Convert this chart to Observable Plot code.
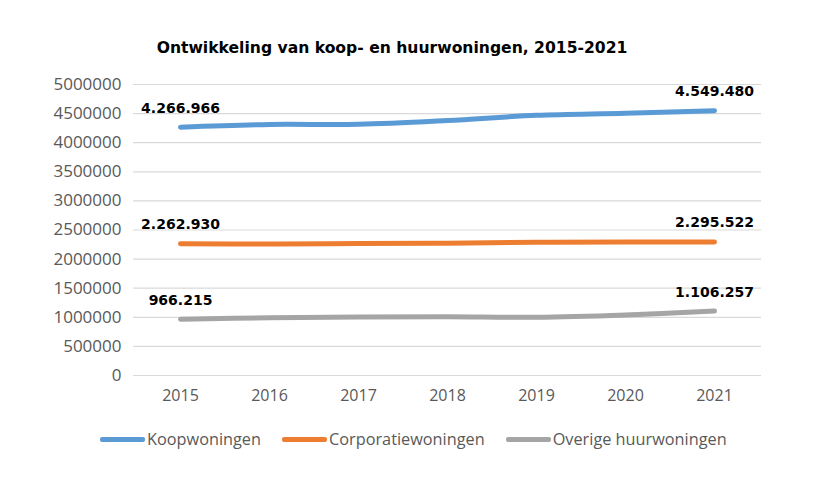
<!DOCTYPE html>
<html><head><meta charset="utf-8">
<script src="https://cdn.jsdelivr.net/npm/d3@7"></script>
<script src="https://cdn.jsdelivr.net/npm/@observablehq/plot@0.6"></script>
<style>
body{margin:0;background:#fff;width:830px;height:492px;overflow:hidden;position:relative;font-family:"Open Sans",sans-serif;}
#title{position:absolute;top:38px;left:0;width:784px;text-align:center;font-family:"DejaVu Sans",Verdana,sans-serif;font-weight:bold;font-size:15.6px;line-height:20px;color:#000;}
#chart{position:absolute;top:70px;left:0;}
#legend{position:absolute;top:427px;left:100px;display:flex;align-items:center;font-size:16.3px;color:#595959;line-height:24px;}
.item{display:flex;align-items:center;margin-right:21px;}
.sw{width:45px;height:5px;border-radius:2px;margin-right:2px;}
</style>
</head><body>
<div id="title">Ontwikkeling van koop- en huurwoningen, 2015-2021</div>
<div id="chart"></div>
<div id="legend"></div>
<script>
const years = [2015, 2016, 2017, 2018, 2019, 2020, 2021];
const koopwoningen = [4266966, 4313000, 4315000, 4380000, 4470000, 4505000, 4549480];
const corporatiewoningen = [2262930, 2258000, 2268000, 2274000, 2290000, 2293000, 2295522];
const overigeHuurwoningen = [966215, 992000, 1006000, 1008000, 1000000, 1040000, 1106257];
const seriesNames = ["Koopwoningen", "Corporatiewoningen", "Overige huurwoningen"];
const seriesColors = ["#5B9BD5", "#ED7D31", "#A5A5A5"];
const yTicks = [0, 500000, 1000000, 1500000, 2000000, 2500000, 3000000, 3500000, 4000000, 4500000, 5000000];

const seriesValues = [koopwoningen, corporatiewoningen, overigeHuurwoningen];
const rows = [];
seriesNames.forEach((s, i) => years.forEach((y, j) => rows.push({series: s, year: y, value: seriesValues[i][j], idx: j})));
const ends = rows.filter(r => r.idx === 0 || r.idx === years.length - 1);

const nl = d3.formatLocale({decimal: ",", thousands: ".", grouping: [3], currency: ["€", ""]});
const fmt = nl.format(",");

const plot = Plot.plot({
  width: 830, height: 345,
  marginTop: 14, marginBottom: 40, marginLeft: 133, marginRight: 69,
  style: {fontFamily: "Open Sans, sans-serif", fontSize: "16px", color: "#595959", background: "white"},
  x: {type: "point", domain: years, padding: 0.5, label: null},
  y: {domain: [0, 5000000], label: null},
  color: {domain: seriesNames, range: seriesColors},
  marks: [
    Plot.ruleY(yTicks, {stroke: "#d9d9d9", strokeWidth: 1.2}),
    Plot.axisY({ticks: yTicks, tickSize: 0, tickPadding: 12, tickFormat: d => String(d), fontSize: 17, label: null}),
    Plot.axisX({tickSize: 0, tickPadding: 14, tickFormat: d => String(d), fontSize: 16, label: null}),
    Plot.line(rows, {x: "year", y: "value", z: "series", stroke: "series", strokeWidth: 5, curve: "catmull-rom", strokeLinecap: "round"}),
    Plot.text(ends, {x: "year", y: "value", text: d => fmt(d.value), dy: -19, fill: "#000", fontFamily: "DejaVu Sans, Verdana, sans-serif", fontWeight: "bold", fontSize: 14})
  ]
});
document.getElementById("chart").appendChild(plot);

const legend = document.getElementById("legend");
seriesNames.forEach((s, i) => {
  const it = document.createElement("div"); it.className = "item";
  const sw = document.createElement("div"); sw.className = "sw"; sw.style.background = seriesColors[i];
  const t = document.createElement("span"); t.textContent = s;
  it.appendChild(sw); it.appendChild(t); legend.appendChild(it);
});
</script>
</body></html>
